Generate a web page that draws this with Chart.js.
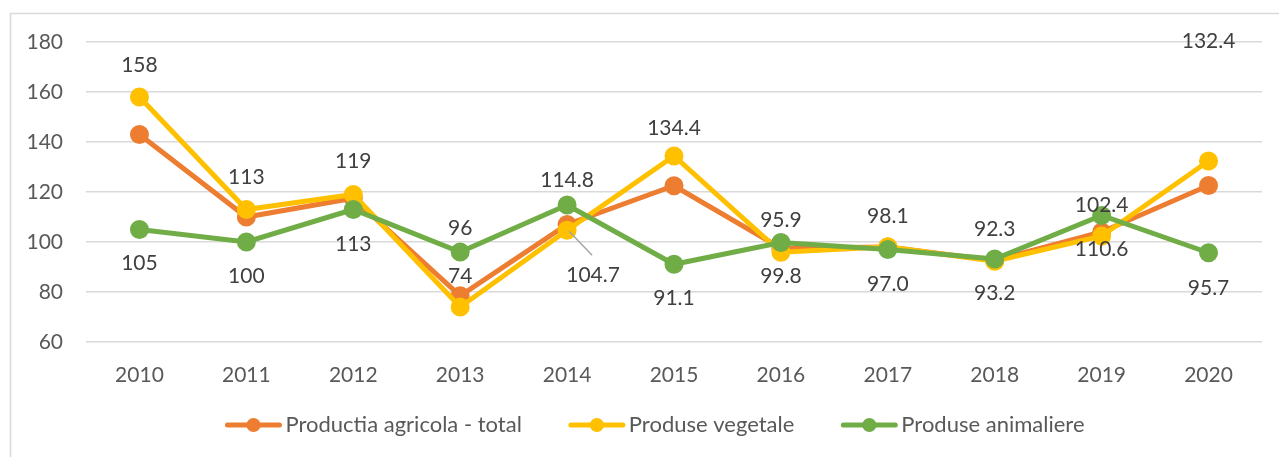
<!DOCTYPE html>
<html>
<head>
<meta charset="utf-8">
<script src="https://cdn.jsdelivr.net/npm/chart.js@4.4.1/dist/chart.umd.min.js"></script>
<style>
  html, body { margin: 0; padding: 0; background: #fff; }
  #wrap { width: 1279px; height: 457px; }
</style>
</head>
<body>
<div id="wrap"><canvas id="chart" width="1279" height="457"></canvas></div>
<script>
// Data
const years = ['2010', '2011', '2012', '2013', '2014', '2015', '2016', '2017', '2018', '2019', '2020'];
const totalValues = [143, 110, 117.5, 78.5, 107, 122.5, 97.5, 98, 92.6, 104, 122.6];
const vegetaleValues = [158, 113, 119, 74, 104.7, 134.4, 95.9, 98.1, 92.3, 102.4, 132.4];
const animaliereValues = [105, 100, 113, 96, 114.8, 91.1, 99.8, 97.0, 93.2, 110.6, 95.7];
const yTicks = [60, 80, 100, 120, 140, 160, 180];

// Where each value label sits relative to its point (pixels)
const vegetaleLabelDy = [-32, -32, -33, -31, 45, -28, -32, -31, -32, -31, -120];
const vegetaleLabelDx = [0, 0, 0, 0, 26, 0, 0, 0, 0, 0, 0];
const animaliereLabelDy = [34, 34, 35, -24, -25, 34, 34, 35, 34, 34, 35];

const FONT = 'Lato, "Open Sans", sans-serif';
const colors = { total: '#ED7D31', vegetale: '#FFC000', animaliere: '#70AD47' };

function fmt(v, i) {
    return i < 4 ? String(Math.round(v)) : v.toFixed(1);
}

// frame around the chart
const framePlugin = {
    id: 'frame',
    beforeDraw(chart) {
        const ctx = chart.ctx;
        ctx.save();
        ctx.strokeStyle = '#d9d9d9';
        ctx.lineWidth = 1.5;
        ctx.strokeRect(10.5, 13.5, 1400, 600);
        ctx.restore();
    }
};

// value labels for yellow and green series
const labelsPlugin = {
    id: 'valueLabels',
    afterDatasetsDraw(chart) {
        const ctx = chart.ctx;
        ctx.save();
        ctx.font = '21px ' + FONT;
        ctx.fillStyle = '#404040';
        ctx.textAlign = 'center';
        ctx.textBaseline = 'middle';
        const sets = [
            { idx: 1, dy: vegetaleLabelDy, dx: vegetaleLabelDx },
            { idx: 2, dy: animaliereLabelDy, dx: null }
        ];
        sets.forEach(s => {
            const meta = chart.getDatasetMeta(s.idx);
            const values = chart.data.datasets[s.idx].data;
            meta.data.forEach((pt, i) => {
                const dx = s.dx ? s.dx[i] : 0;
                const tx = pt.x + dx;
                const ty = pt.y + s.dy[i];
                if (dx !== 0) {
                    // leader line
                    ctx.strokeStyle = '#a6a6a6';
                    ctx.lineWidth = 1.5;
                    ctx.beginPath();
                    ctx.moveTo(pt.x + 2, pt.y + 1);
                    ctx.lineTo(tx - 1, ty - 20);
                    ctx.stroke();
                }
                ctx.fillText(fmt(values[i], i), tx, ty);
            });
        });
        ctx.restore();
    }
};

// legend: line with dot, then text
const legendPlugin = {
    id: 'lineLegend',
    afterDraw(chart) {
        const ctx = chart.ctx;
        ctx.save();
        ctx.font = '22px ' + FONT;
        ctx.textBaseline = 'middle';
        const lineLen = 56, gapText = 4, gapItem = 47;
        const items = chart.data.datasets.map(d => ({ label: d.label, color: d.borderColor, w: ctx.measureText(d.label).width }));
        let total = 0;
        items.forEach((it, i) => { total += lineLen + gapText + it.w + (i < items.length - 1 ? gapItem : 0); });
        let x = 655 - total / 2;
        const y = 425;
        items.forEach(it => {
            ctx.strokeStyle = it.color;
            ctx.lineWidth = 5;
            ctx.lineCap = 'round';
            ctx.beginPath();
            ctx.moveTo(x + 2, y);
            ctx.lineTo(x + lineLen - 2, y);
            ctx.stroke();
            ctx.fillStyle = it.color;
            ctx.beginPath();
            ctx.arc(x + lineLen / 2, y, 7, 0, Math.PI * 2);
            ctx.fill();
            ctx.fillStyle = '#595959';
            ctx.fillText(it.label, x + lineLen + gapText, y);
            x += lineLen + gapText + it.w + gapItem;
        });
        ctx.restore();
    }
};

function series(label, data, color, order) {
    return {
        label: label,
        data: data,
        borderColor: color,
        backgroundColor: color,
        pointBackgroundColor: color,
        pointBorderColor: color,
        borderWidth: 5,
        pointRadius: 7,
        pointHoverRadius: 7,
        tension: 0,
        order: order
    };
}

new Chart(document.getElementById('chart').getContext('2d'), {
    type: 'line',
    data: {
        labels: years,
        datasets: [
            series('Productia agricola - total', totalValues, colors.total, 3),
            series('Produse vegetale', vegetaleValues, colors.vegetale, 2),
            series('Produse animaliere', animaliereValues, colors.animaliere, 1)
        ]
    },
    options: {
        responsive: false,
        animation: false,
        layout: { padding: { left: 0, right: 17, top: 42, bottom: 0 } },
        plugins: {
            legend: { display: false },
            tooltip: { enabled: false }
        },
        scales: {
            x: {
                offset: true,
                grid: { display: false },
                border: { display: false },
                ticks: { color: '#595959', font: { family: FONT, size: 21 }, padding: 13 },
                afterFit(scale) { scale.height = 115; }
            },
            y: {
                min: 60,
                max: 180,
                afterBuildTicks(scale) { scale.ticks = yTicks.map(v => ({ value: v })); },
                grid: { color: '#d9d9d9', lineWidth: 1.5, drawTicks: false },
                border: { display: false },
                ticks: { color: '#595959', font: { family: FONT, size: 21 }, padding: 23 },
                afterFit(scale) { scale.width = 86; }
            }
        }
    },
    plugins: [framePlugin, labelsPlugin, legendPlugin]
});
</script>
</body>
</html>
